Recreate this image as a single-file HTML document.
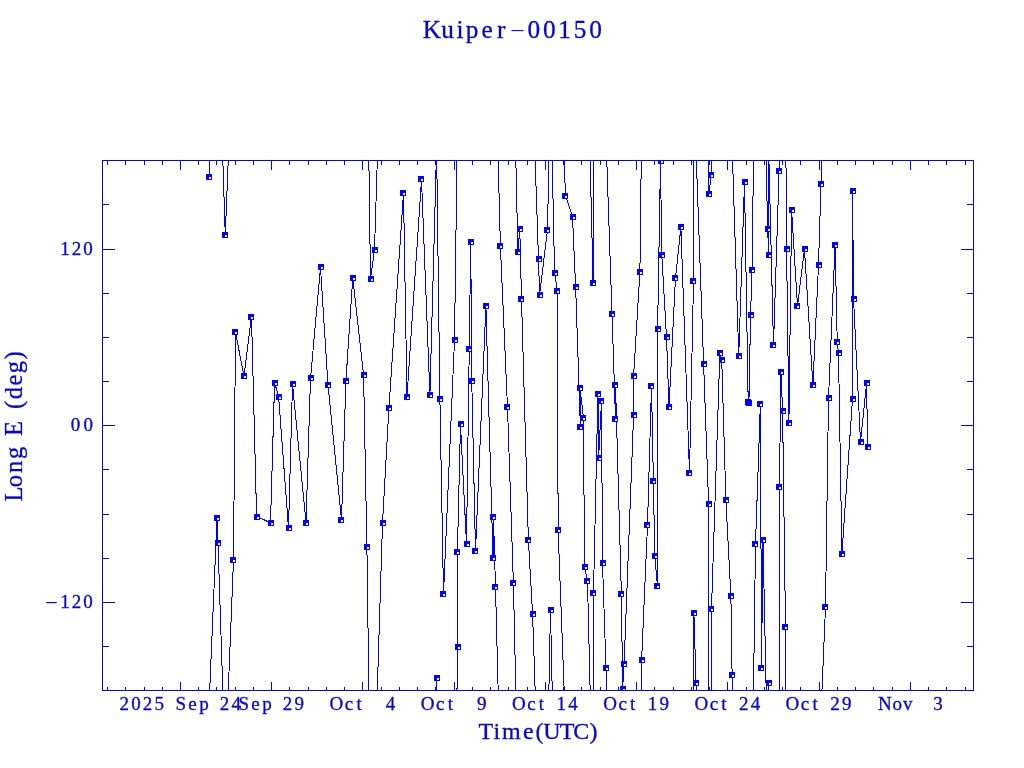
<!DOCTYPE html>
<html lang="en"><head><meta charset="utf-8"><title>Kuiper-00150</title>
<style>html,body{margin:0;padding:0;background:#fff}svg{display:block}</style></head>
<body>
<svg width="1024" height="768" viewBox="0 0 1024 768">
<defs><clipPath id="plot"><rect x="103" y="161" width="870" height="529"/></clipPath></defs>
<defs><filter id="jpg" filterUnits="userSpaceOnUse" x="-16" y="-16" width="1056" height="800" color-interpolation-filters="sRGB"><feColorMatrix in="SourceGraphic" type="matrix" values="0.299 0.587 0.114 0 0  0.299 0.587 0.114 0 0  0.299 0.587 0.114 0 0  0 0 0 1 0" result="Y"/><feConvolveMatrix in="SourceGraphic" order="3" kernelMatrix="1 2 1 2 4 2 1 2 1" divisor="16" edgeMode="duplicate" preserveAlpha="true" result="B"/><feColorMatrix in="B" type="matrix" values="0.3505 -0.2935 -0.057 0 0.5  -0.1495 0.2065 -0.057 0 0.5  -0.1495 -0.2935 0.443 0 0.5  0 0 0 1 0" result="C"/><feComposite in="Y" in2="C" operator="arithmetic" k1="0" k2="1" k3="2" k4="-1"/></filter></defs>
<g filter="url(#jpg)">
<rect x="-16" y="-16" width="1056" height="800" fill="#fff"/>
<g clip-path="url(#plot)" shape-rendering="crispEdges">
<path d="M209 177L217 -11.9 M209 707L217 518.1 M217 518.1L218 543.25 M218 543.25L225.25 765 M218 13.25L225.25 235 M225.25 235L233.5 30 M225.25 765L233.5 560 M233.5 560L235.5 332.4 M235.5 332.4L244 376.25 M244 376.25L251.5 316.5 M251.5 316.5L256.6 516.5 M256.6 516.5L270.5 522.75 M270.5 522.75L274.6 382.5 M274.6 382.5L278.6 396.5 M278.6 396.5L288.5 528.1 M288.5 528.1L292.5 384 M292.5 384L306 522.5 M306 522.5L310.5 378.4 M310.5 378.4L320.5 267.4 M320.5 267.4L328 385.25 M328 385.25L341.5 520 M341.5 520L345.9 381.25 M345.9 381.25L352.75 278 M352.75 278L363.6 374.9 M363.6 374.9L366.9 547 M366.9 547L370.5 808.9 M366.9 17L370.5 278.9 M370.5 278.9L374.5 249.9 M374.5 249.9L382.5 -6.5 M374.5 779.9L382.5 523.5 M382.5 523.5L388.9 408.4 M388.9 408.4L403.5 193.25 M403.5 193.25L407 396.75 M407 396.75L421.5 179.25 M421.5 179.25L429.9 395 M429.9 395L436.6 147.9 M429.9 925L436.6 677.9 M436.6 677.9L439.9 929 M436.6 147.9L439.9 399 M439.9 399L443.5 594.1 M443.5 594.1L454.5 340.25 M454.5 340.25L457.6 116.5 M454.5 870.25L457.6 646.5 M457.6 646.5L457.4 552 M457.4 552L460.5 424.4 M460.5 424.4L466.5 544.1 M466.5 544.1L469.25 348.75 M469.25 348.75L470.75 242.25 M470.75 242.25L471.75 380.5 M471.75 380.5L475.5 551 M475.5 551L485.9 306.4 M485.9 306.4L493 557.9 M493 557.9L493.5 517.1 M493.5 517.1L495.5 587 M495.5 587L500.4 776 M495.5 57L500.4 246 M500.4 246L507.5 407.5 M507.5 407.5L513.4 583.1 M513.4 583.1L517.9 781.75 M513.4 53.1L517.9 251.75 M517.9 251.75L519.75 228.5 M519.75 228.5L521.5 298.6 M521.5 298.6L528.4 540.4 M528.4 540.4L532.6 614.4 M532.6 614.4L538.5 789.5 M532.6 84.4L538.5 259.5 M538.5 259.5L539.6 294.5 M539.6 294.5L547.5 229.75 M547.5 229.75L550.5 80.4 M547.5 759.75L550.5 610.4 M550.5 610.4L554.6 803.25 M550.5 80.4L554.6 273.25 M554.6 273.25L557.5 290.5 M557.5 290.5L558.1 530 M558.1 530L565.5 725.75 M558.1 0L565.5 195.75 M565.5 195.75L572.5 216.5 M572.5 216.5L575.6 286.5 M575.6 286.5L580.4 427 M580.4 427L580 388.2 M580 388.2L583.5 418 M583.5 418L584.5 567.25 M584.5 567.25L587.5 581.4 M587.5 581.4L593.1 813 M587.5 51.4L593.1 283 M593.1 283L593.5 62.9 M593.1 813L593.5 592.9 M593.5 592.9L597.9 394.25 M597.9 394.25L598.6 458.2 M598.6 458.2L601.5 401 M601.5 401L602.5 563.25 M602.5 563.25L606 668.1 M606 668.1L612 843.9 M606 138.1L612 313.9 M612 313.9L615.5 418.75 M615.5 418.75L615.5 384.5 M615.5 384.5L621.4 594.1 M621.4 594.1L622.6 688.5 M622.6 688.5L624.1 664.1 M624.1 664.1L633.6 415 M633.6 415L633.6 375.9 M633.6 375.9L639.9 272.4 M639.9 272.4L641.6 130.25 M639.9 802.4L641.6 660.25 M641.6 660.25L647.5 525.4 M647.5 525.4L651.5 385.9 M651.5 385.9L653.4 481 M653.4 481L654.75 556 M654.75 556L657.5 586.25 M657.5 586.25L657.6 329.5 M657.6 329.5L660.5 161.4 M660.5 161.4L661.75 254.5 M661.75 254.5L666.5 337 M666.5 337L669 406.9 M669 406.9L675.5 277.6 M675.5 277.6L680.9 227.4 M680.9 227.4L689.5 473.1 M689.5 473.1L693.5 281.4 M693.5 281.4L693.9 83.1 M693.5 811.4L693.9 613.1 M693.9 613.1L696.1 683.4 M696.1 683.4L703.6 894 M696.1 153.4L703.6 364 M703.6 364L708.6 504 M708.6 504L709 724 M708.6 -26L709 194 M709 194L711.1 174.5 M711.1 174.5L711.5 79.1 M711.1 704.5L711.5 609.1 M711.5 609.1L719.9 352.5 M719.9 352.5L721.75 360 M721.75 360L725.9 500 M725.9 500L730.9 596.4 M730.9 596.4L732.1 675 M732.1 675L738.75 885.9 M732.1 145L738.75 355.9 M738.75 355.9L744.5 182 M744.5 182L748.2 402.1 M748.2 402.1L748.9 402.8 M748.9 402.8L750.6 314.5 M750.6 314.5L752 270.25 M752 270.25L755.5 13.9 M752 800.25L755.5 543.9 M755.5 543.9L760.4 403.6 M760.4 403.6L761.5 667.9 M761.5 667.9L763 540.4 M763 540.4L767.6 758.9 M763 10.4L767.6 228.9 M767.6 228.9L768.75 254.9 M768.75 254.9L768.75 152.9 M768.75 784.9L768.75 682.9 M768.75 682.9L773.5 875.5 M768.75 152.9L773.5 345.5 M773.5 345.5L779.1 171.1 M779.1 171.1L779.4 -42.75 M779.1 701.1L779.4 487.25 M779.4 487.25L781 372.1 M781 372.1L782.6 411.5 M782.6 411.5L785.5 627 M785.5 627L786.6 779.5 M785.5 97L786.6 249.5 M786.6 249.5L788.9 423 M788.9 423L791.6 210.1 M791.6 210.1L797.5 305.75 M797.5 305.75L804.5 249 M804.5 249L812.9 385.25 M812.9 385.25L818.5 265.1 M818.5 265.1L821 183.6 M821 183.6L825.5 77 M821 713.6L825.5 607 M825.5 607L828.5 398.4 M828.5 398.4L835.1 244.5 M835.1 244.5L837.25 341.75 M837.25 341.75L838.5 353 M838.5 353L841.9 553.9 M841.9 553.9L852.5 399.3 M852.5 399.3L852.55 190.5 M852.55 190.5L853.55 298.9 M853.55 298.9L860.5 441.9 M860.5 441.9L866.6 383.1 M866.6 383.1L867.6 446.9" fill="none" stroke="#0000ff" stroke-width="1"/>
<path d="M206 174h6v6h-6zM214 515h6v6h-6zM215 540h6v6h-6zM222 232h6v6h-6zM230 557h6v6h-6zM232 329h6v6h-6zM241 373h6v6h-6zM248 314h6v6h-6zM254 514h6v6h-6zM268 520h6v6h-6zM272 380h6v6h-6zM276 394h6v6h-6zM286 525h6v6h-6zM290 381h6v6h-6zM303 520h6v6h-6zM308 375h6v6h-6zM318 264h6v6h-6zM325 382h6v6h-6zM338 517h6v6h-6zM343 378h6v6h-6zM350 275h6v6h-6zM361 372h6v6h-6zM364 544h6v6h-6zM368 276h6v6h-6zM372 247h6v6h-6zM380 520h6v6h-6zM386 405h6v6h-6zM400 190h6v6h-6zM404 394h6v6h-6zM418 176h6v6h-6zM427 392h6v6h-6zM434 675h6v6h-6zM437 396h6v6h-6zM440 591h6v6h-6zM452 337h6v6h-6zM455 644h6v6h-6zM454 549h6v6h-6zM458 421h6v6h-6zM464 541h6v6h-6zM466 346h6v6h-6zM468 239h6v6h-6zM469 378h6v6h-6zM472 548h6v6h-6zM483 303h6v6h-6zM490 555h6v6h-6zM490 514h6v6h-6zM492 584h6v6h-6zM497 243h6v6h-6zM504 404h6v6h-6zM510 580h6v6h-6zM515 249h6v6h-6zM517 226h6v6h-6zM518 296h6v6h-6zM525 537h6v6h-6zM530 611h6v6h-6zM536 256h6v6h-6zM537 292h6v6h-6zM544 227h6v6h-6zM548 607h6v6h-6zM552 270h6v6h-6zM554 288h6v6h-6zM555 527h6v6h-6zM562 193h6v6h-6zM570 214h6v6h-6zM573 284h6v6h-6zM577 424h6v6h-6zM577 385h6v6h-6zM580 415h6v6h-6zM582 564h6v6h-6zM584 578h6v6h-6zM590 280h6v6h-6zM590 590h6v6h-6zM595 391h6v6h-6zM596 455h6v6h-6zM598 398h6v6h-6zM600 560h6v6h-6zM603 665h6v6h-6zM609 311h6v6h-6zM612 416h6v6h-6zM612 382h6v6h-6zM618 591h6v6h-6zM620 686h6v6h-6zM621 661h6v6h-6zM631 412h6v6h-6zM631 373h6v6h-6zM637 269h6v6h-6zM639 657h6v6h-6zM644 522h6v6h-6zM648 383h6v6h-6zM650 478h6v6h-6zM652 553h6v6h-6zM654 583h6v6h-6zM655 326h6v6h-6zM658 158h6v6h-6zM659 252h6v6h-6zM664 334h6v6h-6zM666 404h6v6h-6zM672 275h6v6h-6zM678 224h6v6h-6zM686 470h6v6h-6zM690 278h6v6h-6zM691 610h6v6h-6zM693 680h6v6h-6zM701 361h6v6h-6zM706 501h6v6h-6zM706 191h6v6h-6zM708 172h6v6h-6zM708 606h6v6h-6zM717 350h6v6h-6zM719 357h6v6h-6zM723 497h6v6h-6zM728 593h6v6h-6zM729 672h6v6h-6zM736 353h6v6h-6zM742 179h6v6h-6zM745 399h6v6h-6zM746 400h6v6h-6zM748 312h6v6h-6zM749 267h6v6h-6zM752 541h6v6h-6zM757 401h6v6h-6zM758 665h6v6h-6zM760 537h6v6h-6zM765 226h6v6h-6zM766 252h6v6h-6zM766 680h6v6h-6zM770 342h6v6h-6zM776 168h6v6h-6zM776 484h6v6h-6zM778 369h6v6h-6zM780 408h6v6h-6zM782 624h6v6h-6zM784 246h6v6h-6zM786 420h6v6h-6zM789 207h6v6h-6zM794 303h6v6h-6zM802 246h6v6h-6zM810 382h6v6h-6zM816 262h6v6h-6zM818 181h6v6h-6zM822 604h6v6h-6zM826 395h6v6h-6zM832 242h6v6h-6zM834 339h6v6h-6zM836 350h6v6h-6zM839 551h6v6h-6zM850 396h6v6h-6zM850 188h6v6h-6zM851 296h6v6h-6zM858 439h6v6h-6zM864 380h6v6h-6zM865 444h6v6h-6z" fill="#0000ff"/>
<path d="M209 177h2v2h-2zM217 518h2v2h-2zM218 543h2v2h-2zM225 235h2v2h-2zM233 560h2v2h-2zM235 332h2v2h-2zM244 376h2v2h-2zM251 317h2v2h-2zM257 517h2v2h-2zM271 523h2v2h-2zM275 383h2v2h-2zM279 397h2v2h-2zM289 528h2v2h-2zM293 384h2v2h-2zM306 523h2v2h-2zM311 378h2v2h-2zM321 267h2v2h-2zM328 385h2v2h-2zM341 520h2v2h-2zM346 381h2v2h-2zM353 278h2v2h-2zM364 375h2v2h-2zM367 547h2v2h-2zM371 279h2v2h-2zM375 250h2v2h-2zM383 523h2v2h-2zM389 408h2v2h-2zM403 193h2v2h-2zM407 397h2v2h-2zM421 179h2v2h-2zM430 395h2v2h-2zM437 678h2v2h-2zM440 399h2v2h-2zM443 594h2v2h-2zM455 340h2v2h-2zM458 647h2v2h-2zM457 552h2v2h-2zM461 424h2v2h-2zM467 544h2v2h-2zM469 349h2v2h-2zM471 242h2v2h-2zM472 381h2v2h-2zM475 551h2v2h-2zM486 306h2v2h-2zM493 558h2v2h-2zM493 517h2v2h-2zM495 587h2v2h-2zM500 246h2v2h-2zM507 407h2v2h-2zM513 583h2v2h-2zM518 252h2v2h-2zM520 229h2v2h-2zM521 299h2v2h-2zM528 540h2v2h-2zM533 614h2v2h-2zM539 259h2v2h-2zM540 295h2v2h-2zM547 230h2v2h-2zM551 610h2v2h-2zM555 273h2v2h-2zM557 291h2v2h-2zM558 530h2v2h-2zM565 196h2v2h-2zM573 217h2v2h-2zM576 287h2v2h-2zM580 427h2v2h-2zM580 388h2v2h-2zM583 418h2v2h-2zM585 567h2v2h-2zM587 581h2v2h-2zM593 283h2v2h-2zM593 593h2v2h-2zM598 394h2v2h-2zM599 458h2v2h-2zM601 401h2v2h-2zM603 563h2v2h-2zM606 668h2v2h-2zM612 314h2v2h-2zM615 419h2v2h-2zM615 385h2v2h-2zM621 594h2v2h-2zM623 689h2v2h-2zM624 664h2v2h-2zM634 415h2v2h-2zM634 376h2v2h-2zM640 272h2v2h-2zM642 660h2v2h-2zM647 525h2v2h-2zM651 386h2v2h-2zM653 481h2v2h-2zM655 556h2v2h-2zM657 586h2v2h-2zM658 329h2v2h-2zM661 161h2v2h-2zM662 255h2v2h-2zM667 337h2v2h-2zM669 407h2v2h-2zM675 278h2v2h-2zM681 227h2v2h-2zM689 473h2v2h-2zM693 281h2v2h-2zM694 613h2v2h-2zM696 683h2v2h-2zM704 364h2v2h-2zM709 504h2v2h-2zM709 194h2v2h-2zM711 175h2v2h-2zM711 609h2v2h-2zM720 353h2v2h-2zM722 360h2v2h-2zM726 500h2v2h-2zM731 596h2v2h-2zM732 675h2v2h-2zM739 356h2v2h-2zM745 182h2v2h-2zM751 315h2v2h-2zM752 270h2v2h-2zM755 544h2v2h-2zM760 404h2v2h-2zM761 668h2v2h-2zM763 540h2v2h-2zM768 229h2v2h-2zM769 255h2v2h-2zM769 683h2v2h-2zM773 345h2v2h-2zM779 171h2v2h-2zM779 487h2v2h-2zM781 372h2v2h-2zM783 411h2v2h-2zM785 627h2v2h-2zM787 249h2v2h-2zM789 423h2v2h-2zM792 210h2v2h-2zM797 306h2v2h-2zM805 249h2v2h-2zM813 385h2v2h-2zM819 265h2v2h-2zM821 184h2v2h-2zM825 607h2v2h-2zM829 398h2v2h-2zM835 245h2v2h-2zM837 342h2v2h-2zM839 353h2v2h-2zM842 554h2v2h-2zM853 399h2v2h-2zM853 191h2v2h-2zM854 299h2v2h-2zM861 442h2v2h-2zM867 383h2v2h-2zM868 447h2v2h-2z" fill="#fff"/>
</g>
<path d="M102.5 160.5H973.5V690.5H102.5ZM107.5 161.0v4M107.5 690.0v-3M125.5 161.0v4M125.5 690.0v-3M144.5 161.0v4M144.5 690.0v-3M162.5 161.0v4M162.5 690.0v-3M180.5 161.0v9M180.5 690.0v-8M198.5 161.0v4M198.5 690.0v-3M216.5 161.0v4M216.5 690.0v-3M235.5 161.0v4M235.5 690.0v-3M253.5 161.0v4M253.5 690.0v-3M271.5 161.0v9M271.5 690.0v-8M289.5 161.0v4M289.5 690.0v-3M308.5 161.0v4M308.5 690.0v-3M326.5 161.0v4M326.5 690.0v-3M344.5 161.0v4M344.5 690.0v-3M362.5 161.0v9M362.5 690.0v-8M381.5 161.0v4M381.5 690.0v-3M399.5 161.0v4M399.5 690.0v-3M417.5 161.0v4M417.5 690.0v-3M435.5 161.0v4M435.5 690.0v-3M454.5 161.0v9M454.5 690.0v-8M472.5 161.0v4M472.5 690.0v-3M490.5 161.0v4M490.5 690.0v-3M508.5 161.0v4M508.5 690.0v-3M527.5 161.0v4M527.5 690.0v-3M545.5 161.0v9M545.5 690.0v-8M563.5 161.0v4M563.5 690.0v-3M581.5 161.0v4M581.5 690.0v-3M600.5 161.0v4M600.5 690.0v-3M618.5 161.0v4M618.5 690.0v-3M636.5 161.0v9M636.5 690.0v-8M654.5 161.0v4M654.5 690.0v-3M673.5 161.0v4M673.5 690.0v-3M691.5 161.0v4M691.5 690.0v-3M709.5 161.0v4M709.5 690.0v-3M727.5 161.0v9M727.5 690.0v-8M746.5 161.0v4M746.5 690.0v-3M764.5 161.0v4M764.5 690.0v-3M782.5 161.0v4M782.5 690.0v-3M800.5 161.0v4M800.5 690.0v-3M819.5 161.0v9M819.5 690.0v-8M837.5 161.0v4M837.5 690.0v-3M855.5 161.0v4M855.5 690.0v-3M873.5 161.0v4M873.5 690.0v-3M892.5 161.0v4M892.5 690.0v-3M910.5 161.0v9M910.5 690.0v-8M928.5 161.0v4M928.5 690.0v-3M946.5 161.0v4M946.5 690.0v-3M965.5 161.0v4M965.5 690.0v-3M103.0 646.5h6M973.0 646.5h-6M103.0 602.5h12M973.0 602.5h-12M103.0 558.5h6M973.0 558.5h-6M103.0 514.5h6M973.0 514.5h-6M103.0 469.5h6M973.0 469.5h-6M103.0 425.5h12M973.0 425.5h-12M103.0 381.5h6M973.0 381.5h-6M103.0 337.5h6M973.0 337.5h-6M103.0 293.5h6M973.0 293.5h-6M103.0 249.5h12M973.0 249.5h-12M103.0 204.5h6M973.0 204.5h-6" fill="none" stroke="#0000ff" stroke-width="1" shape-rendering="crispEdges"/>
<g font-family="'Liberation Serif', serif" fill="#0707c8" stroke="#0707c8" stroke-width="0.3">
<text y="37.8" font-size="25.3" text-anchor="middle"><tspan x="432 447.5 460 472.2 487 501.1">Kuiper</tspan><tspan x="509.75" dy="-3.5" font-size="15.18" text-anchor="start" stroke="none" textLength="15.5" lengthAdjust="spacingAndGlyphs">-</tspan><tspan x="533.9 549.3 564.7 580.1 595.5" dy="3.5">00150</tspan></text>
<text x="485.75 496.9 511.45 528.25 539.4 552 567.15 581.2 593.55" y="738.6" font-size="24" text-anchor="middle">Time(UTC)</text>
<text transform="translate(22.2 0) rotate(-90)" x="-494 -481.1 -466.9 -452.9 -440.7 -428.5 -416.6 -404.8 -393 -380 -367 -355.5" y="0" font-size="24.6" text-anchor="middle">Long E (deg)</text>
<text x="124.2 135.9 147.6 159.3 167.8 180.7 192.4 204 215.2 224.5 236.3" y="709.6" font-size="19" text-anchor="middle" xml:space="preserve">2025 Sep 24</text>
<text x="243.73 255.43 267.03 278.23 287.53 299.33" y="709.6" font-size="19" text-anchor="middle" xml:space="preserve">Sep 29</text>
<text x="336.35 348.95 359.05 369.45 378.75 390.55" y="709.6" font-size="19" text-anchor="middle" xml:space="preserve">Oct  4</text>
<text x="427.57 440.18 450.28 460.68 469.98 481.78" y="709.6" font-size="19" text-anchor="middle" xml:space="preserve">Oct  9</text>
<text x="518.8 531.4 541.5 551.9 561.2 573" y="709.6" font-size="19" text-anchor="middle" xml:space="preserve">Oct 14</text>
<text x="610.02 622.62 632.73 643.12 652.42 664.22" y="709.6" font-size="19" text-anchor="middle" xml:space="preserve">Oct 19</text>
<text x="701.25 713.85 723.95 734.35 743.65 755.45" y="709.6" font-size="19" text-anchor="middle" xml:space="preserve">Oct 24</text>
<text x="792.48 805.08 815.18 825.58 834.88 846.67" y="709.6" font-size="19" text-anchor="middle" xml:space="preserve">Oct 29</text>
<text x="884.8 897.3 907.8 916.8 926.1 937.9" y="709.6" font-size="19" text-anchor="middle" xml:space="preserve">Nov  3</text>
<text x="65 76.5 88.1" y="255.2" font-size="19" text-anchor="middle">120</text>
<text x="75.6 88.2" y="431.2" font-size="19" text-anchor="middle">00</text>
<text y="608" font-size="19" text-anchor="middle"><tspan x="44.75" dy="-1" font-size="16.15" text-anchor="start" stroke="none" textLength="13.5" lengthAdjust="spacingAndGlyphs">-</tspan><tspan x="65 76.5 88.1" dy="1">120</tspan></text>
</g>
</g>
</svg>
</body></html>
